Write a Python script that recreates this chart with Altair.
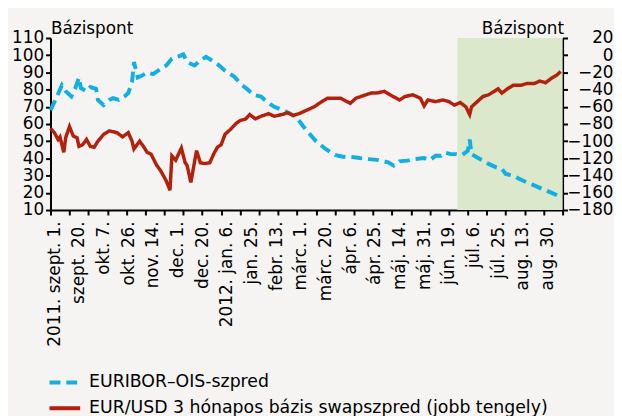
import altair as alt
import pandas as pd

# ---- data (business-day index from 2011-08-30) ----
blue_idx = [0, 3, 6, 8, 11, 13, 15, 16, 19, 21, 24, 25, 28, 31, 33, 36, 39, 41, 43, 44, 46, 48, 51, 54, 58, 61, 64, 68, 70, 72,
            76, 79, 82, 85, 89, 92, 97, 100, 104, 107, 111, 114, 118, 122, 126, 130, 133, 136, 140, 145, 150, 154, 158, 163,
            168, 173, 178, 181, 184, 188, 192, 197, 200, 203, 206, 208, 211, 214, 217, 220, 221, 222, 225, 228, 231, 235,
            238, 240, 244, 247, 251, 255, 259, 264, 267, 269]
blue_val = [68, 75, 82.5, 79, 76, 80.5, 87, 81, 79, 81.5, 80.5, 74, 71, 74, 75, 74, 76, 78, 84.5, 96, 87, 88, 90, 89, 92, 94, 98,
            99.5, 100.5, 96, 94, 97, 99, 97, 94, 91, 87.5, 83.5, 80, 77, 76, 73, 70, 68.3, 66.3, 63.5, 59, 55, 50, 45.5, 42,
            41, 41, 40.2, 39.6, 39, 37.7, 35.8, 38.3, 38.7, 39.6, 40.2, 39, 41.5, 41.5, 43.4, 42.5, 42.5, 42, 44.4, 51, 42.5,
            40.5, 38.7, 36.8, 34.8, 33.9, 31, 30, 28.2, 26.2, 24.3, 22.4, 20.1, 18.6, 17.3]

red_idx = [0, 2, 4, 5, 7, 8, 10, 12, 14, 15, 17, 19, 21, 23, 25, 28, 31, 35, 38, 41, 43, 44, 47, 49, 51, 53, 56, 58, 61, 63,
           64, 66, 69, 71, 72, 74, 77, 79, 81, 84, 86, 88, 90, 92, 95, 98, 100, 103, 105, 108, 111, 115, 118, 122, 125, 128,
           131, 134, 136, 139, 143, 146, 150, 153, 158, 161, 165, 169, 172, 176, 179, 184, 187, 191, 195, 197, 199, 203, 207,
           210, 213, 216, 219, 221, 222, 225, 228, 231, 234, 236, 238, 241, 244, 248, 251, 255, 258, 261, 264, 267, 269]
red_val = [-85, -90, -98, -95, -113, -96, -83, -94, -96, -106, -104, -98, -106, -107, -100, -92, -88, -90, -95, -90, -100, -109,
           -100, -106, -113, -115, -128, -134, -146, -157, -117, -122, -108, -125, -128, -148, -111, -125, -126, -125, -115,
           -107, -104, -92, -86, -79, -76, -74, -69, -74, -71, -68, -71, -69, -67, -70, -68, -65, -63, -60, -54, -50, -50, -50,
           -56, -50, -47, -44, -44, -42, -46, -52, -48, -46, -50, -59, -52, -54, -52, -54, -58, -55, -60, -69, -60, -54, -48,
           -46, -42, -39, -44, -39, -35, -35, -33, -33, -30, -32, -27, -23, -19]

label_idx = list(range(2, 263, 13))
label_text = ["2011. szept. 1.", "szept. 20.", "okt. 7.", "okt. 26.", "nov. 14.", "dec. 1.", "dec. 20.",
              "2012. jan. 6.", "jan. 25.", "febr. 13.", "márc. 1.", "márc. 20.", "ápr. 6.", "ápr. 25.",
              "máj. 14.", "máj. 31.", "jún. 19.", "júl. 6.", "júl. 25.", "aug. 13.", "aug. 30."]
tick_idx = list(range(0, 271, 10))
x_range = [0, 270]
left_range = [10, 110]
right_range = [-180, 20]
shade_start = [214.5]
shade_end = [270]
series_names = ["EURIBOR–OIS-szpred", "EUR/USD 3 hónapos bázis swapszpred (jobb tengely)"]

# ---- frames ----
blue_df = pd.DataFrame({"idx": blue_idx, "val": blue_val, "series": series_names[0]})
red_df = pd.DataFrame({"idx": red_idx, "val": red_val, "series": series_names[1]})
shade_df = pd.DataFrame({"x0": shade_start, "x1": shade_end, "y0": [left_range[0]], "y1": [left_range[1]]})

FONT = "DejaVu Sans"
BLUE = "#12afe3"
RED = "#b3200c"

idx_js = "[" + ",".join(str(i) for i in label_idx) + "]"
txt_js = "[" + ",".join("'" + t + "'" for t in label_text) + "]"
label_expr = f"indexof({idx_js}, datum.value) >= 0 ? {txt_js}[indexof({idx_js}, datum.value)] : ''"
axis_values = sorted(set(tick_idx) | set(label_idx))

x_axis = alt.Axis(values=axis_values, labelExpr=label_expr, labelAngle=270, labelOverlap=False,
                  labelFlush=False, labelPadding=6, tickSize=5, tickWidth=2, tickColor="black",
                  tickOpacity={"expr": "datum.value % 10 === 0 ? 1 : 0"},
                  domainColor="black", domainWidth=2, grid=False, title=None,
                  labelFont=FONT, labelFontSize=17, labelColor="black", labelBound=False)
x_scale = alt.Scale(domain=x_range, nice=False, zero=False)

left_axis = alt.Axis(orient="left", values=list(range(10, 111, 10)), tickSize=5, tickWidth=2, tickColor="black",
                     domainColor="black", domainWidth=2, grid=False, labelPadding=2,
                     labelFont=FONT, labelFontSize=17, labelColor="black",
                     title="Bázispont", titleAngle=0, titleX=0, titleY=-5, titleAlign="left",
                     titleBaseline="alphabetic", titleFont=FONT, titleFontSize=17,
                     titleFontWeight="normal", titleColor="black")
right_axis = alt.Axis(orient="right", values=list(range(-180, 21, 20)), tickSize=5, tickWidth=2,
                      tickColor="black", domainColor="black", domainWidth=2, grid=False,
                      labelAlign="right", labelPadding=46,
                      labelFont=FONT, labelFontSize=17, labelColor="black",
                      title="Bázispont", titleAngle=0, titleX=1, titleY=-5, titleAlign="right",
                      titleBaseline="alphabetic", titleFont=FONT, titleFontSize=17,
                      titleFontWeight="normal", titleColor="black")

legend_kw = dict(orient="none", legendX=-3, legendY=331, title=None,
                 symbolType="stroke", symbolSize=961, symbolStrokeWidth=4,
                 labelFont=FONT, labelFontSize=17.5, labelColor="black",
                 labelLimit=0, labelOffset=7, rowPadding=-10.5, direction="vertical")
color = alt.Color("series:N", scale=alt.Scale(domain=series_names, range=[BLUE, RED]),
                  legend=alt.Legend(**legend_kw))
dash = alt.StrokeDash("series:N", scale=alt.Scale(domain=series_names, range=[[11, 6], [1, 0]]),
                      legend=alt.Legend(**legend_kw))

left_scale = alt.Scale(domain=left_range, nice=False, zero=False)
right_scale = alt.Scale(domain=right_range, nice=False, zero=False)

shade = alt.Chart(shade_df).mark_rect(color="#dce8cb").encode(
    x=alt.X("x0:Q", scale=x_scale, axis=x_axis),
    x2="x1:Q",
    y=alt.Y("y0:Q", scale=left_scale, axis=None),
    y2="y1:Q",
)

blue = alt.Chart(blue_df).mark_line(strokeWidth=4, strokeCap="butt").encode(
    x=alt.X("idx:Q", scale=x_scale, axis=x_axis),
    y=alt.Y("val:Q", scale=left_scale, axis=left_axis),
    color=color,
    strokeDash=dash,
)

red = alt.Chart(red_df).mark_line(strokeWidth=3.5).encode(
    x=alt.X("idx:Q", scale=x_scale, axis=x_axis),
    y=alt.Y("val:Q", scale=right_scale, axis=right_axis),
    color=color,
    strokeDash=dash,
)

chart = alt.layer(shade, blue, red).resolve_scale(y="independent").properties(
    width=518, height=174,
    padding={"left": 43, "top": 28, "right": 52, "bottom": 206},
    autosize=alt.AutoSizeParams(type="none"),
    background="#f5f4f2",
).configure_view(stroke=None)

chart.save("out.html", embed_options={"renderer": "svg", "actions": False})
